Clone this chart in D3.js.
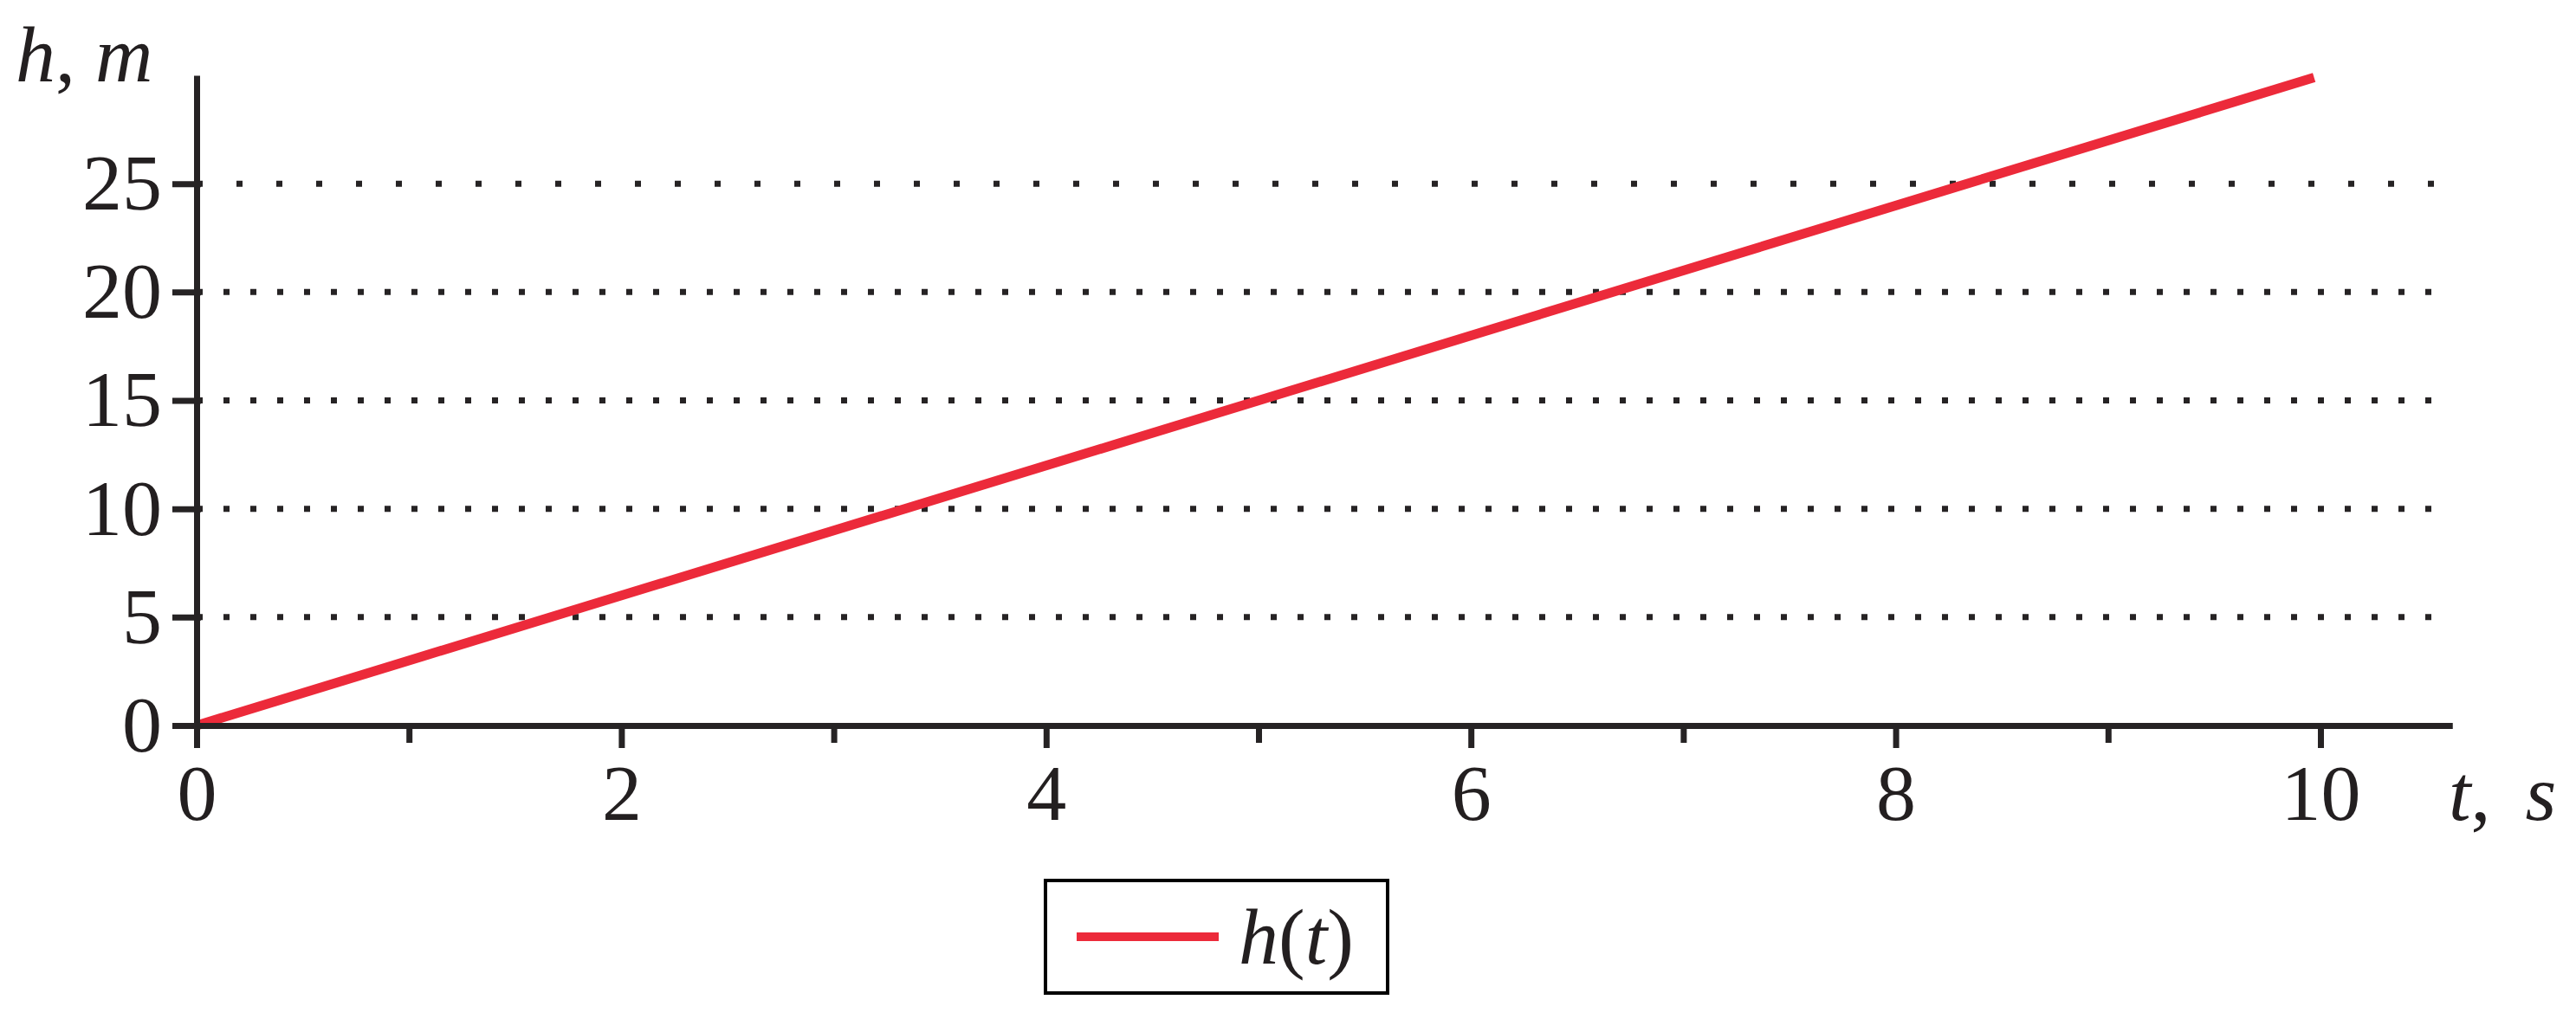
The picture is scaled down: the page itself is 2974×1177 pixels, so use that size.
<!DOCTYPE html>
<html>
<head>
<meta charset="utf-8">
<script src="https://cdn.jsdelivr.net/npm/d3@7"></script>
<style>
    body { margin: 0; background: #fff; }
    svg { display: block; }
    text { font-family: "Liberation Serif", "Times New Roman", Times, serif; fill: #231f20; }
</style>
</head>
<body>
<div id="chart"></div>
<script>
// data
const tValues = [0, 9.97];
const hValues = [0, 29.9];
const yTicks = [0, 5, 10, 15, 20, 25];
const xMajorTicks = [0, 2, 4, 6, 8, 10];
const xMinorTicks = [1, 3, 5, 7, 9];
const seriesName = "h(t)";

const width = 2974, height = 1177;
const axisColor = "#262324";
const lineColor = "#ec2a3a";
const fontFamily = '"Liberation Serif", "Times New Roman", Times, serif';

const svg = d3.select("#chart").append("svg")
    .attr("width", width)
    .attr("height", height);

const x = d3.scaleLinear().domain([0, 10.62]).range([227, 2831]);
const y = d3.scaleLinear().domain([0, 30]).range([838, 87]);

// dotted grid lines (the top one has wider spacing in the original)
const grid = svg.append("g");
grid.selectAll("line")
    .data(yTicks.filter((d) => d > 0))
    .enter()
    .append("line")
    .attr("x1", x(0))
    .attr("x2", x.range()[1] - 3)
    .attr("y1", (d) => y(d))
    .attr("y2", (d) => y(d))
    .attr("stroke", axisColor)
    .attr("stroke-width", 7)
    .attr("stroke-dasharray", (d) => (d === 25 ? "7 39" : "7 24"));

// the series
const points = tValues.map((t, i) => ({ t: t, h: hValues[i] }));
svg.append("path")
    .datum(points)
    .attr("fill", "none")
    .attr("stroke", lineColor)
    .attr("stroke-width", 11)
    .attr("d", d3.line().x((d) => x(d.t)).y((d) => y(d.h)));

function styleAxis(g) {
    g.selectAll(".domain").attr("stroke", axisColor).attr("stroke-width", 7);
    g.selectAll(".tick line").attr("stroke", axisColor).attr("stroke-width", 7);
    g.selectAll(".tick text")
        .style("font-family", fontFamily)
        .style("font-size", "92px")
        .attr("fill", axisColor);
}

// x axis: minor ticks, then major ticks with labels
svg.append("g")
    .attr("transform", `translate(0,${y(0)})`)
    .call(d3.axisBottom(x).tickValues(xMinorTicks).tickSize(20).tickSizeOuter(0).tickFormat(""))
    .call(styleAxis);

svg.append("g")
    .attr("transform", `translate(0,${y(0)})`)
    .call(d3.axisBottom(x).tickValues(xMajorTicks).tickSize(26).tickSizeOuter(0).tickPadding(18))
    .call(styleAxis);

// y axis
svg.append("g")
    .attr("transform", `translate(${x(0)},0)`)
    .call(d3.axisLeft(y).tickValues(yTicks).tickSize(28).tickSizeOuter(0).tickPadding(12))
    .call(styleAxis)
    .call((g) => g.selectAll(".tick line").attr("x2", -28).attr("x1", 5));

// axis titles
const yTitle = svg.append("text")
    .attr("x", 18)
    .attr("y", 94)
    .style("font-size", "92px")
    .style("font-style", "italic");
yTitle.append("tspan").text("h");
yTitle.append("tspan").style("font-style", "normal").text(", ");
yTitle.append("tspan").text("m");

const xTitle = svg.append("text")
    .attr("x", 2827)
    .attr("y", 947)
    .style("font-size", "92px")
    .style("font-style", "italic");
xTitle.append("tspan").text("t");
xTitle.append("tspan").style("font-style", "normal").text(",");
xTitle.append("tspan").attr("dx", 40).text("s");

// legend
const legend = svg.append("g");
legend.append("rect")
    .attr("x", 1207)
    .attr("y", 1017)
    .attr("width", 395)
    .attr("height", 130)
    .attr("fill", "#fff")
    .attr("stroke", "#000")
    .attr("stroke-width", 4);
legend.append("line")
    .attr("x1", 1243)
    .attr("x2", 1407)
    .attr("y1", 1082)
    .attr("y2", 1082)
    .attr("stroke", lineColor)
    .attr("stroke-width", 10);
const legendText = legend.append("text")
    .attr("x", 1430)
    .attr("y", 1113)
    .style("font-size", "92px")
    .attr("fill", "#000");
legendText.append("tspan").style("font-style", "italic").text("h");
legendText.append("tspan").text("(");
legendText.append("tspan").style("font-style", "italic").text("t");
legendText.append("tspan").text(")");
</script>
</body>
</html>
